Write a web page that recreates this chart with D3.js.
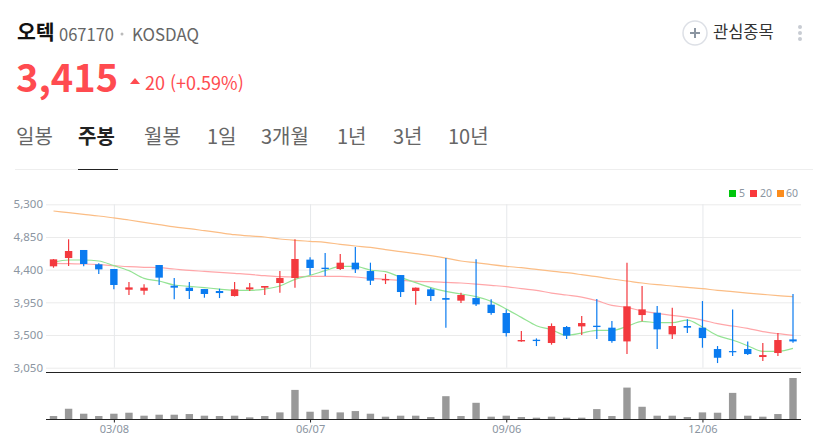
<!DOCTYPE html>
<html lang="ko"><head><meta charset="utf-8">
<script src="https://cdn.jsdelivr.net/npm/d3@7/dist/d3.min.js"></script>
<style>html,body{margin:0;padding:0;background:#fff}svg{display:block}
text{font-family:"Noto Sans CJK KR","Noto Sans",sans-serif}</style></head><body>
<svg id="c" width="813" height="445"></svg>
<script>
const weeks=["02/08","02/15","02/22","03/01","03/08","03/15","03/22","03/29","04/05","04/12","04/19","04/26","05/03","05/10","05/17","05/24","05/31","06/07","06/14","06/21","06/28","07/05","07/12","07/19","07/26","08/02","08/09","08/16","08/23","08/30","09/06","09/13","09/20","09/27","10/04","10/11","10/18","10/25","11/01","11/08","11/15","11/22","11/29","12/06","12/13","12/20","12/27","01/03","01/10","01/17"];
const opens=[4446,4560,4671,4473,4409,4124,4110,4464,4179,4152,4133,4106,4037,4129,4152,4216,4285,4538,4427,4409,4496,4381,4253,4326,4106,4129,4009,3973,4009,3918,3803,3412,3435,3390,3610,3619,3628,3601,3412,3775,3807,3509,3624,3601,3307,3279,3307,3197,3252,3440];
const highs=[4547,4818,4671,4487,4409,4230,4198,4464,4285,4230,4133,4138,4230,4216,4175,4381,4818,4570,4629,4616,4712,4496,4340,4326,4156,4152,4560,4083,4542,3991,3853,3555,3454,3660,3624,3761,3996,3693,4496,4175,3899,3876,3716,3968,3348,3853,3412,3390,3527,4065];
const lows=[4427,4450,4446,4340,4129,4051,4055,4189,3991,3996,4014,4009,4032,4106,4051,4083,4152,4326,4312,4395,4354,4189,4202,4023,3918,3968,3601,3941,3899,3780,3481,3408,3348,3367,3445,3500,3445,3394,3238,3688,3307,3445,3527,3325,3114,3210,3224,3141,3210,3394];
const closes=[4542,4657,4478,4404,4189,4156,4152,4290,4152,4106,4065,4078,4129,4156,4175,4285,4547,4423,4409,4496,4404,4248,4271,4092,4152,4037,3986,4051,3922,3803,3527,3431,3417,3624,3491,3665,3610,3417,3895,3853,3578,3624,3601,3458,3187,3265,3238,3224,3431,3412];
const ma5=[4501,4533,4533,4519,4455,4386,4280,4244,4189,4170,4152,4133,4115,4115,4133,4175,4267,4322,4386,4446,4446,4395,4372,4294,4221,4152,4101,4065,4028,3964,3858,3743,3628,3573,3495,3527,3564,3564,3619,3688,3670,3670,3706,3610,3491,3431,3353,3275,3275,3316];
const ma20=[4487,4482,4478,4469,4455,4441,4432,4427,4409,4390,4377,4363,4349,4335,4317,4303,4299,4308,4308,4308,4299,4280,4267,4253,4239,4234,4225,4216,4202,4184,4166,4138,4115,4078,4051,4023,3973,3908,3881,3830,3798,3771,3743,3706,3656,3624,3592,3546,3518,3495];
const ma60=[5208,5185,5162,5139,5112,5084,5052,5020,4988,4965,4937,4909,4882,4864,4850,4822,4804,4790,4776,4749,4726,4707,4675,4648,4620,4593,4560,4519,4496,4469,4446,4427,4404,4381,4358,4331,4303,4271,4244,4216,4193,4175,4156,4138,4115,4097,4078,4060,4042,4028];
const volumes=[9,31,16,9,16,19,10,13,13,15,10,9,10,5,9,20,88,22,28,20,24,16,7,10,10,6,69,9,49,7,10,6,4,7,4,4,30,9,95,37,10,10,6,20,19,79,10,7,15,124];
const priceTicks=[5300,4850,4400,3950,3500,3050];
const dateTicks=["03/08","06/07","09/06","12/06"];
const maLegend=["5","20","60"];
const maColors=["#00c60c","#f9383c","#fb8c1c"];
const maLineColors=["#94e394","#ffa6a9","#fbbd85"];
const tabs=["일봉","주봉","월봉","1일","3개월","1년","3년","10년"];
const tabX=[16,78,144,207,261,337,393,448];

const UP="#f3393e",DOWN="#0a7bf0",TICK="#8b95a1";
const svg=d3.select("#c");
const x=d3.scalePoint().domain(weeks).range([53.5,793]);
const y=d3.scaleLinear().domain([3050,5300]).range([367.7,204.3]);
const v=d3.scaleLinear().domain([0,124]).range([419,378]);
const G=[46,801];

// header
const t=(s,px,py,size,fill,weight,anchor)=>svg.append("text").attr("x",px).attr("y",py).attr("font-size",size).attr("fill",fill).attr("font-weight",weight||400).attr("text-anchor",anchor||"start").text(s);
t("오텍",17,40,20.5,"#111",700);
t("067170",59,40.5,17,"#666").attr("textLength",55).attr("lengthAdjust","spacingAndGlyphs");
t("KOSDAQ",132,40.5,17,"#666").attr("textLength",67).attr("lengthAdjust","spacingAndGlyphs");
svg.append("circle").attr("cx",122).attr("cy",34).attr("r",1.5).attr("fill","#bbb");
t("3,415",16,92,38,"#ff4b50",700);
svg.append("path").attr("d","M130 84L135 78L140 84Z").attr("fill","#ff4b50");
t("20 (+0.59%)",145,90,18,"#ff4b50");
tabs.forEach((s,i)=>t(s,tabX[i],144,20,i==1?"#222":"#666",i==1?700:400));
svg.append("line").attr("x1",15).attr("x2",813).attr("y1",169.5).attr("y2",169.5).attr("stroke","#eee");
svg.append("line").attr("x1",78).attr("x2",118).attr("y1",169.5).attr("y2",169.5).attr("stroke","#222");
svg.append("circle").attr("cx",695).attr("cy",33).attr("r",12).attr("fill","#fff").attr("stroke","#dde0e6").attr("stroke-width",1.5);
svg.append("path").attr("d","M690 33H700M695 28V38").attr("stroke","#8b95a1").attr("stroke-width",2);
t("관심종목",713,38,16.5,"#333");
svg.selectAll(".dot").data([27,33,39]).join("circle").attr("cx",800).attr("cy",d=>d).attr("r",2).attr("fill","#c8ccd3");

// grid + axes
const ay=svg.append("g").attr("transform",`translate(${G[0]},0)`)
  .call(d3.axisLeft(y).tickValues(priceTicks).tickSize(0).tickPadding(3).tickFormat(d3.format(",")));
ay.select(".domain").remove();
ay.selectAll("text").attr("fill",TICK).attr("font-size",11.5).style("font-family","'Noto Sans',sans-serif");
ay.selectAll("line").attr("x2",G[1]-G[0]).attr("stroke","#ebebeb");
svg.append("g").selectAll("line").data(dateTicks).join("line")
  .attr("x1",d=>x(d)+.5).attr("x2",d=>x(d)+.5).attr("y1",y(5300)).attr("y2",y(3050)).attr("stroke","#e6e8eb");
svg.append("line").attr("x1",G[0]).attr("x2",G[1]).attr("y1",372.5).attr("y2",372.5).attr("stroke","#222");

// MA lines
[ma60,ma20,ma5].forEach((arr,i)=>{
  const line=d3.line().x((d,j)=>x(weeks[j])).y(d=>y(d)).curve(d3.curveMonotoneX);
  svg.append("path").attr("d",line(arr)).attr("fill","none").attr("stroke",[maLineColors[2],maLineColors[1],maLineColors[0]][i]).attr("stroke-width",1.2);
});

// candles
const idx=d3.range(weeks.length);
const col=i=>closes[i]>=opens[i]?UP:DOWN;
svg.append("g").selectAll("line").data(idx).join("line")
  .attr("x1",i=>x(weeks[i])).attr("x2",i=>x(weeks[i])).attr("y1",i=>y(highs[i])).attr("y2",i=>y(lows[i]))
  .attr("stroke",col).attr("stroke-width",1.2);
svg.append("g").selectAll("rect").data(idx).join("rect")
  .attr("x",i=>x(weeks[i])-3.7).attr("width",7.4)
  .attr("y",i=>Math.min(y(opens[i]),y(closes[i])))
  .attr("height",i=>Math.max(1.2,Math.abs(y(opens[i])-y(closes[i]))))
  .attr("fill",col);

// volumes
svg.append("g").selectAll("rect").data(idx).join("rect")
  .attr("x",i=>x(weeks[i])-3.7).attr("width",7.4)
  .attr("y",i=>v(volumes[i])).attr("height",i=>v(0)-v(volumes[i])).attr("fill","#999");
const ax=svg.append("g").attr("transform","translate(0,419.5)")
  .call(d3.axisBottom(x).tickValues(dateTicks).tickSize(3).tickPadding(3));
ax.select(".domain").attr("d",`M${G[0]},0H${G[1]}`).attr("stroke","#222");
ax.selectAll("line").attr("stroke","#222");
ax.selectAll("text").attr("fill",TICK).attr("font-size",11).style("font-family","'Noto Sans',sans-serif");

// legend
const lx=[729,750,777],ltx=[739,760,786];
maLegend.forEach((s,i)=>{
  svg.append("rect").attr("x",lx[i]).attr("y",190).attr("width",7).attr("height",7).attr("fill",maColors[i]);
  t(s,ltx[i],197,10.5,TICK).style("font-family","'Noto Sans',sans-serif");
});
</script></body></html>
